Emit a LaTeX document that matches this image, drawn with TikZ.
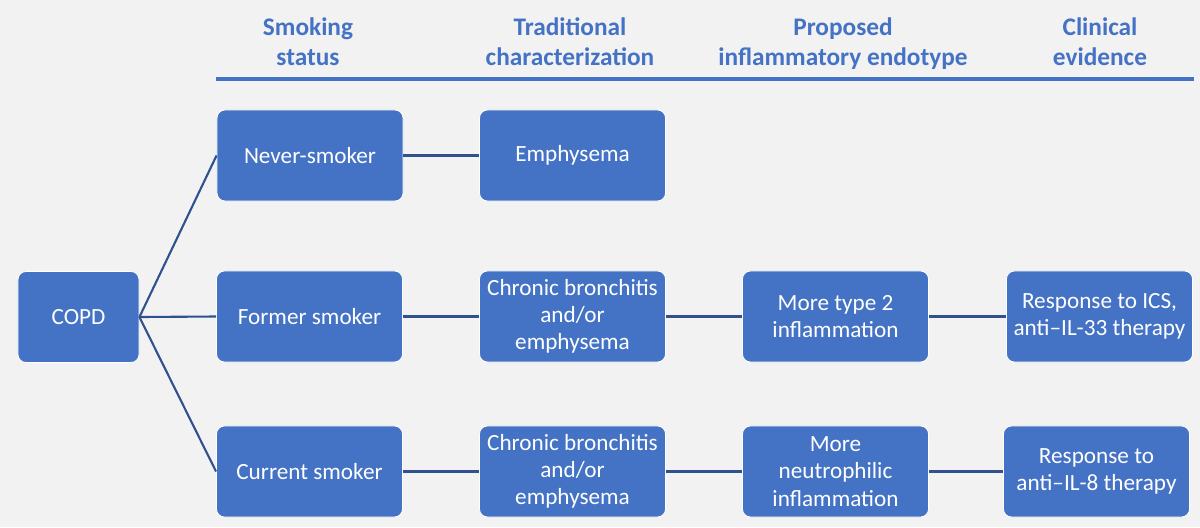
\documentclass[tikz,border=0pt]{standalone}
\usepackage{fontspec}
\setmainfont{Carlito}
\definecolor{bgcol}{HTML}{F2F2F2}
\definecolor{boxblue}{HTML}{4472C4}
\definecolor{linkblue}{HTML}{2F528F}
\tikzset{
	stage/.style={rectangle, rounded corners=0.2cm, fill=boxblue, draw=white,
		line width=0.6pt, text=white, minimum width=4.65cm, minimum height=2.275cm,
		align=center, inner sep=2pt, font=\fontsize{16.5}{19.3}\selectfont},
	heading/.style={align=center, text=boxblue, font=\bfseries\fontsize{18}{21.3}\selectfont},
	link/.style={draw=linkblue, line width=1.5pt}
}
\begin{document}
\begin{tikzpicture}[x=0.025cm, y=-0.025cm]
			% background
			\fill[bgcol] (0,0) rectangle (1200,527);
			\useasboundingbox (0,0) rectangle (1200,527);

			% column headings
			\node[heading] (hsmoke) at (308,42) {Smoking\\status};
			\node[heading] (htrad) at (570,42) {Traditional\\characterization};
			\node[heading] (hendo) at (843,44) {Proposed\\inflammatory endotype};
			\node[heading] (hclin) at (1100,42) {Clinical\\evidence};
			\draw[boxblue, line width=3.2pt] (216,79) -- (1194,79);

			% boxes
			\node[stage, minimum width=3.025cm] (copd) at (78.5,317) {COPD};
			\node[stage] (never) at (310,155.5) {Never-smoker};
			\node[stage] (former) at (309.5,316.5) {Former smoker};
			\node[stage] (current) at (309.5,471.5) {Current smoker};
			\node[stage] (emph) at (572.5,155.5) {Emphysema};
			\node[stage] (chronA) at (572.5,316.5) {Chronic bronchitis\\and/or\\emphysema};
			\node[stage] (chronB) at (572.5,471.5) {Chronic bronchitis\\and/or\\emphysema};
			\node[stage] (typetwo) at (835.5,316.5) {More type 2\\inflammation};
			\node[stage] (neutro) at (835.5,471.5) {More\\neutrophilic\\inflammation};
			\node[stage] (ics) at (1099.5,316.5) {Response to ICS,\\anti–IL-33 therapy};
			\node[stage] (ileight) at (1096.5,471.5) {Response to\\anti–IL-8 therapy};

			% connectors
			\draw[link] (copd.east) -- (never.west);
			\draw[link] (copd.east) -- (former.west);
			\draw[link] (copd.east) -- (current.west);
			\draw[link] (never) -- (emph);
			\draw[link] (former) -- (chronA);
			\draw[link] (current) -- (chronB);
			\draw[link] (chronA) -- (typetwo);
			\draw[link] (chronB) -- (neutro);
			\draw[link] (typetwo) -- (ics);
			\draw[link] (neutro) -- (ileight);
\end{tikzpicture}
\end{document}
